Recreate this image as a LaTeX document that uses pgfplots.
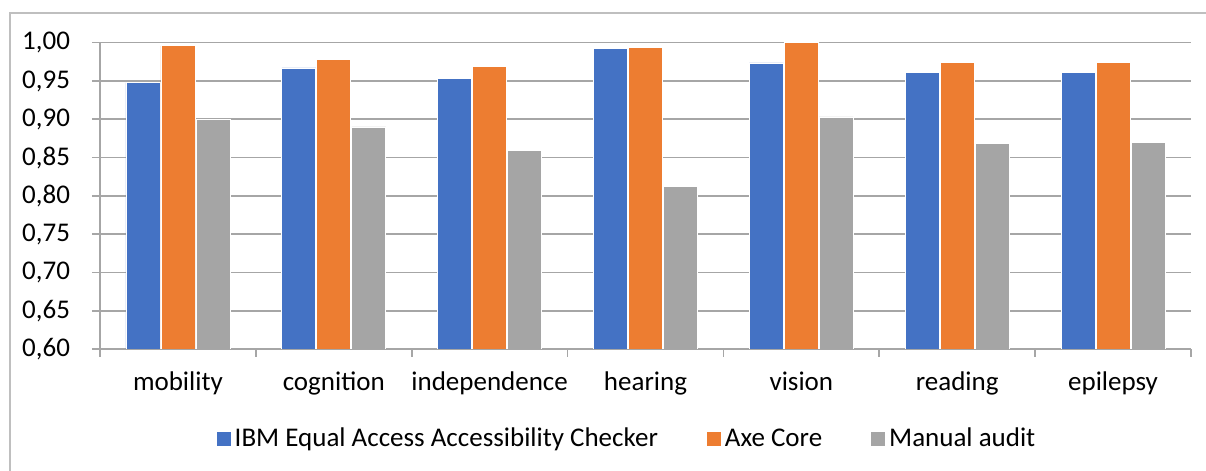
\documentclass[border=0pt]{standalone}
\usepackage{pgfplots}
\pgfplotsset{compat=1.18}
\usepackage{pgfplotstable}
\usepackage{fontspec}
\setmainfont{Carlito}
\definecolor{cblue}{HTML}{4472C4}
\definecolor{corange}{HTML}{ED7D31}
\definecolor{cgray}{HTML}{A5A5A5}
\definecolor{gridc}{HTML}{A6A6A6}
\definecolor{borderc}{HTML}{BFBFBF}
\pgfplotstableread{
x name ibm axe manual
0 mobility 0.948 0.996 0.900
1 cognition 0.967 0.978 0.890
2 independence 0.9535 0.969 0.859
3 hearing 0.992 0.994 0.812
4 vision 0.9735 1.000 0.903
5 reading 0.961 0.974 0.869
6 epilepsy 0.961 0.974 0.870
}\datatable
\begin{document}
\begin{tikzpicture}
\useasboundingbox (0,0) rectangle (603pt,235.5pt);
\draw[color=borderc, line width=0.6pt] (5pt,0pt) -- (5pt,229pt) -- (603pt,229pt);
\begin{axis}[
  at={(50pt,61pt)}, anchor=south west,
  scale only axis, width=545.5pt, height=153.15pt,
  ybar=0.5pt, bar width=17pt,
  ymin=0.6, ymax=1.0,
  ytick={0.6,0.65,...,1.0},
  xmin=-0.5, xmax=6.5,
  xtick={-0.5,0.5,...,6.5},
  x tick label as interval,
  xticklabels={mobility,cognition,independence,hearing,vision,reading,epilepsy},
  axis x line*=bottom, axis y line*=left,
  axis line style={-, color=gridc, line width=0.8pt},
  ymajorgrids, grid style={color=gridc, line width=0.8pt},
  tick style={color=gridc, line width=0.8pt},
  tick align=outside, major tick length=4pt,
  /pgf/number format/.cd, use comma, fixed, fixed zerofill, precision=2, assume math mode=true,
  /pgfplots/.cd,
  yticklabel style={font=\fontsize{13.5}{16}\selectfont, text=black, xshift=-7.5pt},
  xticklabel style={font=\fontsize{13.5}{16}\selectfont, text=black, yshift=-4pt},
  legend style={at={(0.484,-0.294)}, anchor=center, draw=none,
    font=\fontsize{13.5}{16}\selectfont, legend columns=3,
    /tikz/every even column/.append style={column sep=22.5pt}},
  legend image code/.code={\fill[#1, draw=none] (0pt,-3.5pt) rectangle (7pt,3.5pt);},
]
\addplot[fill=cblue, draw=white, line width=0.4pt] table[x=x, y=ibm] {\datatable};
\addplot[fill=corange, draw=white, line width=0.4pt] table[x=x, y=axe] {\datatable};
\addplot[fill=cgray, draw=white, line width=0.4pt] table[x=x, y=manual] {\datatable};
\legend{IBM Equal Access Accessibility Checker, Axe Core, Manual audit}
\end{axis}
\end{tikzpicture}
\end{document}
